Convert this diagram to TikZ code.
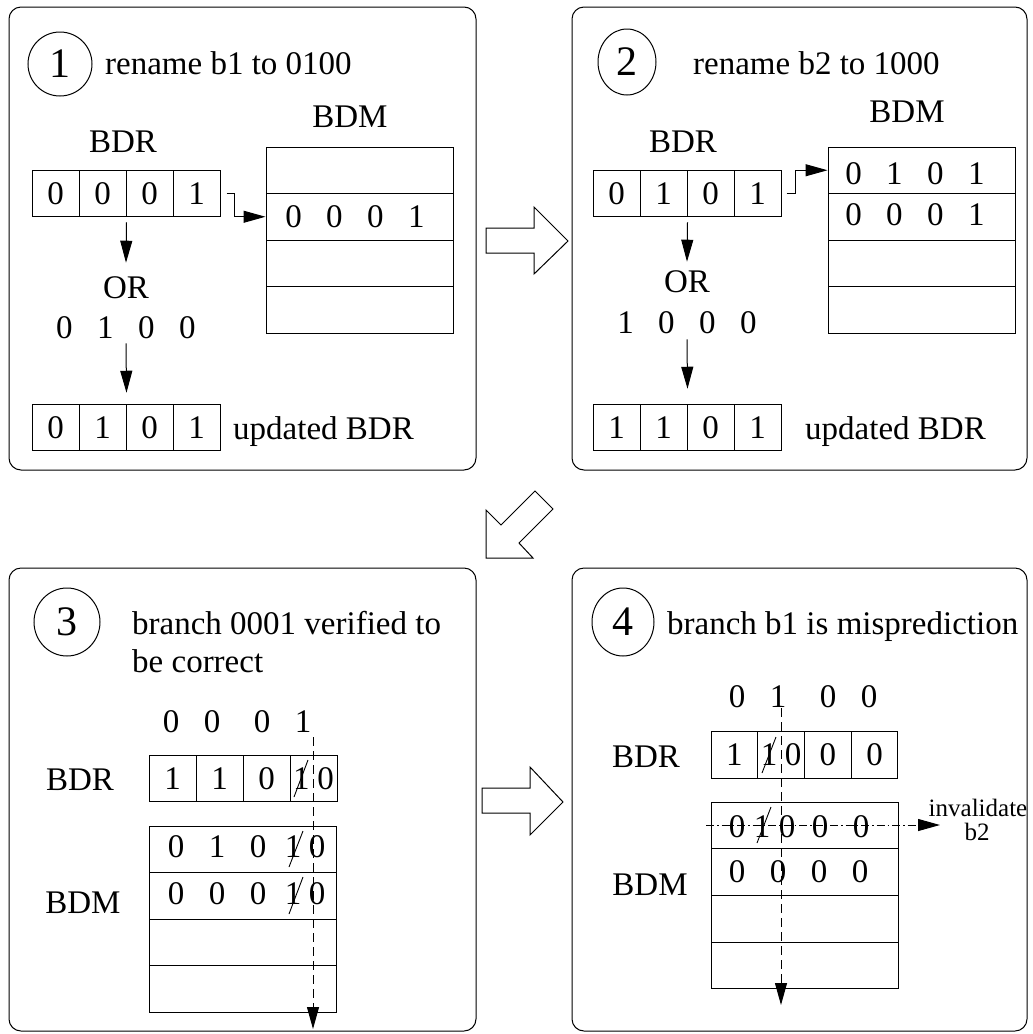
\documentclass[tikz,border=0pt]{standalone}
\usepackage{fontspec}
\setmainfont{Liberation Serif}
\usetikzlibrary{arrows.meta,shapes.geometric}
\newcommand{\mydg}[1]{\makebox[41pt]{#1}}
\begin{document}
\begin{tikzpicture}[x=1pt,y=-1pt,
  every node/.style={inner sep=0pt, font=\fontsize{33}{38}\selectfont},
  panel/.style={draw, line width=1pt, rounded corners=12pt},
  cell/.style={draw, line width=1pt, minimum width=47pt, minimum height=46.5pt},
  cellb/.style={draw, line width=1pt, minimum width=46.75pt, minimum height=46.5pt},
  brow/.style={draw, line width=1pt, minimum width=187pt, minimum height=46.5pt},
  brw/.style={draw, line width=1pt, minimum width=187pt, minimum height=46.75pt},
  num/.style={ellipse, draw, line width=1pt, font=\fontsize{42}{46}\selectfont},
  arr/.style={line width=1pt, -{Triangle[length=22pt,width=12pt]}},
  bigarr/.style={draw, line width=1pt, line join=miter},
  small/.style={font=\fontsize{25}{26}\selectfont},
  slash/.style={line width=0.9pt},
  vdash/.style={arr, dash pattern=on 9pt off 5pt},
  ddot/.style={arr, dash pattern=on 8pt off 3pt on 1.5pt off 3pt}
]
\useasboundingbox (0,0) rectangle (1033,1034);

% ---------- Panel 1 ----------
\draw[panel] (9,7) rectangle (476,470);
\node[num, minimum width=64pt, minimum height=64pt] (c1) at (60,64) {1};
\node[anchor=base west] (t1) at (105,74) {rename b1 to 0100};
\node (bdr1) at (123,142) {BDR};
\node[cell] (a1) at (55.5,193.5) {0};
\node[cell] (a2) at (102.5,193.5) {0};
\node[cell] (a3) at (149.5,193.5) {0};
\node[cell] (a4) at (196.5,193.5) {1};
\node (or1) at (126,288) {OR};
\node (v1) at (126,328) {\mydg0\mydg1\mydg0\mydg0};
\node[cell] (u1a) at (55.5,427.5) {0};
\node[cell] (u1b) at (102.5,427.5) {1};
\node[cell] (u1c) at (149.5,427.5) {0};
\node[cell] (u1d) at (196.5,427.5) {1};
\node[anchor=base west] (ul1) at (233,439) {updated BDR};
\node (bdm1) at (350,117) {BDM};
\node[brow] (m1a) at (359.5,170.25) {};
\node[brow] (m1b) at (359.5,216.75) {};
\node[brow] (m1c) at (359.5,263.25) {};
\node[brow] (m1d) at (359.5,309.75) {};
\node (m1bt) at (355,217) {\mydg0\mydg0\mydg0\mydg1};
\draw[arr] ([yshift=-5pt]a2.south east) -- ([yshift=14pt]or1.north);
\draw[arr] ([yshift=-4pt]v1.south) -- ([yshift=11pt]u1b.north east);
\draw[arr] ([xshift=6pt]a4.east) -- ++(8,0) |- (m1b.west);

% ---------- Panel 2 ----------
\draw[panel] (572,7) rectangle (1027,470);
\node[num, minimum width=58pt, minimum height=66pt] (c2) at (627,62) {2};
\node[anchor=base west] (t2) at (693,74) {rename b2 to 1000};
\node (bdr2) at (683,142) {BDR};
\node[cell] (b1) at (616.5,193.5) {0};
\node[cell] (b2) at (663.5,193.5) {1};
\node[cell] (b3) at (710.5,193.5) {0};
\node[cell] (b4) at (757.5,193.5) {1};
\node (or2) at (687,282) {OR};
\node (v2) at (687,323) {\mydg1\mydg0\mydg0\mydg0};
\node[cell] (u2a) at (616.5,427.5) {1};
\node[cell] (u2b) at (663.5,427.5) {1};
\node[cell] (u2c) at (710.5,427.5) {0};
\node[cell] (u2d) at (757.5,427.5) {1};
\node[anchor=base west] (ul2) at (805,439) {updated BDR};
\node (bdm2) at (907,112) {BDM};
\node[brow] (m2a) at (921.5,170.25) {};
\node[brow] (m2b) at (921.5,216.75) {};
\node[brow] (m2c) at (921.5,263.25) {};
\node[brow] (m2d) at (921.5,309.75) {};
\node (m2at) at (915,174) {\mydg0\mydg1\mydg0\mydg1};
\node (m2bt) at (915,215) {\mydg0\mydg0\mydg0\mydg1};
\draw[arr] ([yshift=-5pt]b2.south east) -- ([yshift=9pt]or2.north);
\draw[arr] ([yshift=-5pt]v2.south) -- ([yshift=15pt]u2b.north east);
\draw[arr] ([xshift=5pt]b4.east) -- ++(9,0) |- (m2a.west);

% ---------- big arrows ----------
\draw[bigarr] (486,228) -- (534,228) -- (534,207) -- (568,241) -- (534,274) -- (534,253) -- (486,253) -- cycle;
\draw[bigarr] (486,558) -- (486,510) -- (501,525) -- (535,491) -- (553,509) -- (519,543) -- (533,558) -- cycle;
\draw[bigarr] (482,788) -- (530,788) -- (530,767) -- (563,802) -- (530,835) -- (530,813) -- (482,813) -- cycle;

% ---------- Panel 3 ----------
\draw[panel] (9,568) rectangle (476,1031);
\node[num, minimum width=66pt, minimum height=68pt] (c3) at (67,622) {3};
\node[anchor=base west] (t3a) at (132,634) {branch 0001 verified to};
\node[anchor=base west] (t3b) at (132,672) {be correct};
\node (h3a) at (171,722) {0};
\node (h3b) at (212,722) {0};
\node (h3c) at (262,722) {0};
\node (h3d) at (303,722) {1};
\node (bdr3) at (80,780) {BDR};
\node[cell] (e1) at (172.5,778.5) {1};
\node[cell] (e2) at (219.5,778.5) {1};
\node[cell] (e3) at (266.5,778.5) {0};
\node[cell] (e4) at (313.5,778.5) {1\hspace{8pt}0};
\node (bdm3) at (83,903) {BDM};
\node[brow] (m3a) at (243,849.25) {};
\node[brow] (m3b) at (243,895.75) {};
\node[brow] (m3c) at (243,942.25) {};
\node[brow] (m3d) at (243,988.75) {};
\node[anchor=west] (m3at) at (155.5,847) {\mydg0\mydg1\mydg0\hspace{2.5pt}\makebox[24pt]{1}\makebox[24pt]{0}};
\node[anchor=west] (m3bt) at (155.5,894) {\mydg0\mydg0\mydg0\hspace{2.5pt}\makebox[24pt]{1}\makebox[24pt]{0}};
\draw[slash] (294,797) -- (308,760);
\draw[slash] (289,867) -- (303,831);
\draw[slash] (289,914) -- (303,877);
\coordinate (d3s) at (313,737);
\coordinate (d3e) at (313,1029);
\draw[vdash] (d3s) -- (d3e);

% ---------- Panel 4 ----------
\draw[panel] (572,568) rectangle (1027,1031);
\node[num, minimum width=62pt, minimum height=68pt] (c4) at (623,622) {4};
\node[anchor=base west] (t4) at (667,634) {branch b1 is misprediction};
\node (h4a) at (737,697) {0};
\node (h4b) at (778,697) {1};
\node (h4c) at (828,697) {0};
\node (h4d) at (869,697) {0};
\node (bdr4) at (646,757) {BDR};
\node[cellb] (f1) at (734.4,755) {1};
\node[cellb] (f2) at (781.1,755) {1\hspace{7.5pt}0};
\node[cellb] (f3) at (827.9,755) {0};
\node[cellb] (f4) at (874.6,755) {0};
\node (bdm4) at (650,885) {BDM};
\node[brw] (m4a) at (804.5,825.4) {};
\node[brw] (m4b) at (804.5,872.1) {};
\node[brw] (m4c) at (804.5,918.9) {};
\node[brw] (m4d) at (804.5,965.6) {};
\node[anchor=west] (m4at) at (724.5,827) {\makebox[25pt]{0}\makebox[25pt]{1}\makebox[25pt]{0}\mydg0\mydg0};
\node[anchor=west] (m4bt) at (716.5,872) {\mydg0\mydg0\mydg0\mydg0};
\draw[slash] (762,773) -- (776,737);
\draw[slash] (757,843) -- (771,807);
\coordinate (d4s) at (781,708);
\coordinate (d4e) at (781,1005);
\draw[vdash] (d4s) -- (d4e);
\coordinate (i4s) at (706,825);
\coordinate (i4e) at (940,825);
\draw[ddot] (i4s) -- (i4e);
\node[small] (inv) at (978,808) {invalidate};
\node[small] (invb) at (977,832) {b2};
\end{tikzpicture}
\end{document}
